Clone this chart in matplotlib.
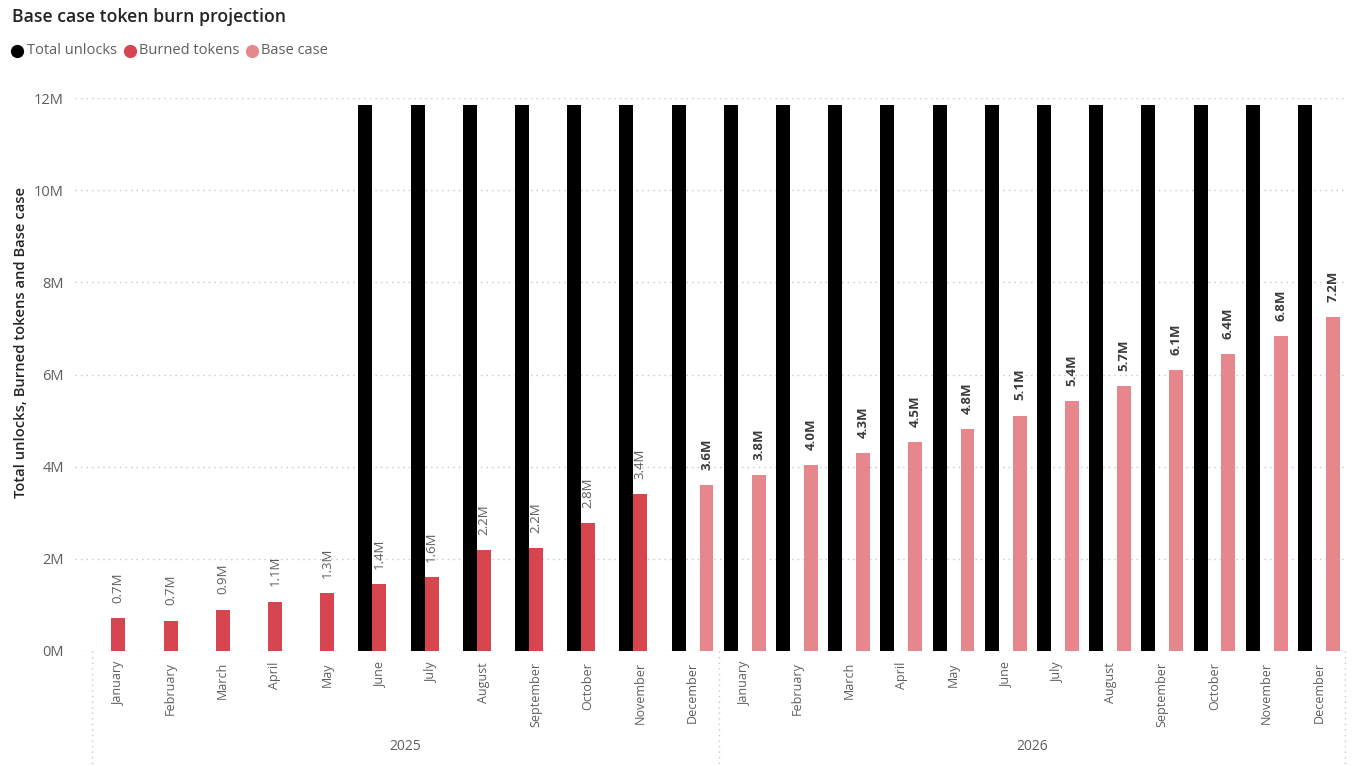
import matplotlib.pyplot as plt
import matplotlib.transforms as mtransforms
from matplotlib.lines import Line2D
import numpy as np

plt.rcParams['font.family'] = ['Open Sans', 'DejaVu Sans']

months = ["January", "February", "March", "April", "May", "June", "July",
          "August", "September", "October", "November", "December"] * 2
years = ["2025", "2026"]

# values in millions of tokens
total_unlocks = [None, None, None, None, None, 11.85, 11.85, 11.85, 11.85, 11.85, 11.85, 11.85,
                 11.85, 11.85, 11.85, 11.85, 11.85, 11.85, 11.85, 11.85, 11.85, 11.85, 11.85, 11.85]
burned_tokens = [0.72, 0.66, 0.90, 1.07, 1.26, 1.45, 1.60, 2.19, 2.23, 2.77, 3.40, None,
                 None, None, None, None, None, None, None, None, None, None, None, None]
base_case = [None, None, None, None, None, None, None, None, None, None, None, 3.60,
             3.82, 4.04, 4.29, 4.54, 4.82, 5.11, 5.42, 5.74, 6.09, 6.44, 6.84, 7.24]

C_BLACK = "#000000"
C_RED = "#D64550"
C_PINK = "#E6878E"
GRAY = "#605E5C"


def arr(vals):
    return np.array([np.nan if v is None else v * 1e6 for v in vals])


tu, bt, bc = arr(total_unlocks), arr(burned_tokens), arr(base_case)
x = np.arange(len(months))
w = 0.268

fig = plt.figure(figsize=(13.53, 7.66), dpi=100)
ax = fig.add_axes([75 / 1353, 1 - 651 / 766, 1270 / 1353, 553 / 766])

ax.bar(x - w, tu, width=w, color=C_BLACK, zorder=3)
ax.bar(x, bt, width=w, color=C_RED, zorder=3)
ax.bar(x + w, bc, width=w, color=C_PINK, zorder=3)

for xi, v in zip(x, bt):
    if not np.isnan(v):
        ax.annotate(f"{v / 1e6:.1f}M", (xi, v), xytext=(0, 11), textcoords="offset points",
                    rotation=90, ha="center", va="bottom", fontsize=9.5, color=GRAY)
for xi, v in zip(x, bc):
    if not np.isnan(v):
        ax.annotate(f"{v / 1e6:.1f}M", (xi + w, v), xytext=(0, 11), textcoords="offset points",
                    rotation=90, ha="center", va="bottom", fontsize=9.5, color="#3B3A39",
                    fontweight="bold")

ax.set_xlim(-0.83, len(months) - 0.5)
ax.set_ylim(0, 12e6)
ax.set_yticks(np.arange(0, 13e6, 2e6))
ax.set_yticklabels([f"{int(t / 1e6)}M" for t in np.arange(0, 13e6, 2e6)])
ax.grid(axis="y", color="#C8C6C4", linestyle=(0, (1, 3)), linewidth=1, zorder=0)
ax.set_xticks(x)
ax.set_xticklabels(months, rotation=90, fontsize=9, color=GRAY)
ax.tick_params(axis="both", length=0, colors=GRAY)
ax.tick_params(axis="y", labelsize=10.5, pad=8)
ax.tick_params(axis="x", pad=8)
for s in ax.spines.values():
    s.set_visible(False)

trans = mtransforms.blended_transform_factory(ax.transData, ax.transAxes)
for xs in [-0.5, 11.5, len(months) - 0.5]:
    ax.plot([xs, xs], [0, -0.21], transform=trans, clip_on=False,
            color="#C8C6C4", linestyle=(0, (1, 3)), linewidth=1)
ax.text(5.5, -0.172, years[0], transform=trans, ha="center", va="center", fontsize=10, color=GRAY)
ax.text(17.5, -0.172, years[1], transform=trans, ha="center", va="center", fontsize=10, color=GRAY)

fig.text(12 / 1353, 1 - 17 / 766, "Base case token burn projection", ha="left", va="center",
         fontsize=12.7, fontweight="semibold", color="#252423")
fig.text(21 / 1353, 1 - 342 / 766, "Total unlocks, Burned tokens and Base case", rotation=90,
         ha="center", va="center", fontsize=10.6, fontweight="semibold", color="#252423")

for cx, tx, col, name in [(17, 27, C_BLACK, "Total unlocks"), (130, 139, C_RED, "Burned tokens"),
                          (252, 261, C_PINK, "Base case")]:
    fig.add_artist(Line2D([cx / 1353], [1 - 51 / 766], marker="o", markersize=8.5, color=col,
                          linestyle="none", transform=fig.transFigure))
    fig.text(tx / 1353, 1 - 51 / 766, name, ha="left", va="center", fontsize=10.5, color=GRAY)

fig.savefig("out.png", dpi=100)
